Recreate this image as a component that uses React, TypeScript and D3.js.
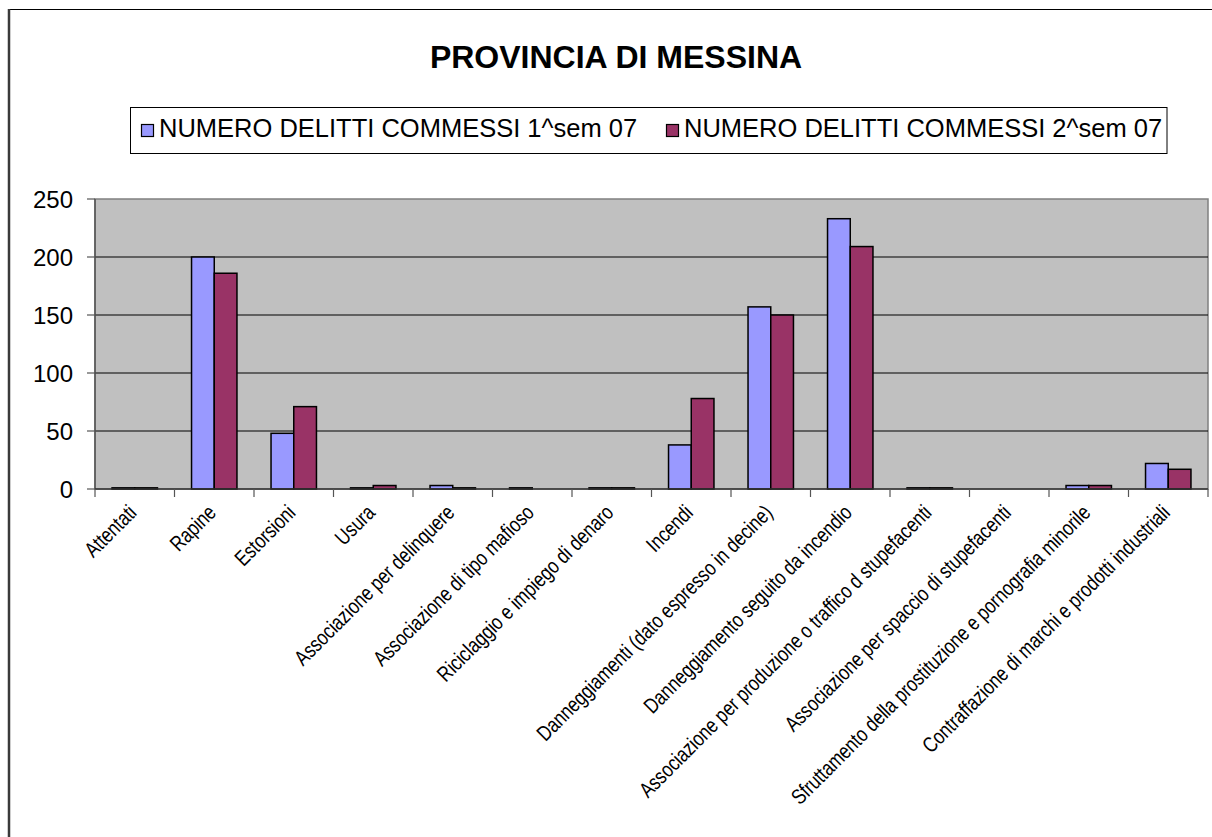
import React from "react";
import * as d3 from "d3";

const categories: string[] = [
  "Attentati",
  "Rapine",
  "Estorsioni",
  "Usura",
  "Associazione per delinquere",
  "Associazione di tipo mafioso",
  "Riciclaggio e impiego di denaro",
  "Incendi",
  "Danneggiamenti (dato espresso in decine)",
  "Danneggiamento seguito da incendio",
  "Associazione per produzione o traffico d stupefacenti",
  "Associazione per spaccio di stupefacenti",
  "Sfruttamento della prostituzione e pornografia minorile",
  "Contraffazione di marchi e prodotti industriali",
];

const seriesNames: string[] = [
  "NUMERO DELITTI COMMESSI 1^sem 07",
  "NUMERO DELITTI COMMESSI 2^sem 07",
];

const sem1: number[] = [1, 200, 48, 1, 3, 1, 1, 38, 157, 233, 1, 0, 3, 22];
const sem2: number[] = [1, 186, 71, 3, 1, 0, 1, 78, 150, 209, 1, 0, 3, 17];

const yTicks: number[] = [0, 50, 100, 150, 200, 250];

const seriesColors = ["#9999FF", "#993366"];

export default function App() {
  const W = 1212;
  const H = 837;
  const plot = { left: 95, right: 1208, top: 199, bottom: 489 };

  const x0 = d3
    .scaleBand<string>()
    .domain(categories)
    .range([plot.left, plot.right])
    .paddingInner(0)
    .paddingOuter(0);
  const x1 = d3
    .scaleBand<string>()
    .domain(seriesNames)
    .range([0, x0.bandwidth()])
    .paddingInner(0)
    .paddingOuter(0.75);
  const y = d3.scaleLinear().domain([0, 250]).range([plot.bottom, plot.top]);

  const values = [sem1, sem2];
  const mainFont = "'Liberation Sans', Arial, Helvetica, sans-serif";

  const boundaries = d3.range(categories.length + 1).map((i) => plot.left + i * x0.step());

  return (
    <svg
      width={W}
      height={H}
      style={{ position: "absolute", left: 0, top: 0, background: "#fff" }}
    >
      {/* outer chart border */}
      <path d={`M${W + 5},9.5 H9.5 V${H + 5}`} fill="none" stroke="#000" strokeWidth={1} />
      <line x1={9} y1={9} x2={9} y2={H + 5} stroke="#3a3a3a" strokeWidth={2.5} />

      {/* title */}
      <text
        x={616}
        y={68}
        textAnchor="middle"
        fontFamily={mainFont}
        fontWeight="bold"
        fontSize={32}
        fill="#000"
      >
        PROVINCIA DI MESSINA
      </text>

      {/* legend */}
      <rect x={130.5} y={107.5} width={1036.5} height={46} fill="#fff" stroke="#000" strokeWidth={1} />
      {seriesNames.map((name, i) => {
        const sx = i === 0 ? 141 : 666;
        return (
          <g key={name}>
            <rect x={sx + 0.5} y={124.5} width={12} height={12} fill={seriesColors[i]} stroke="#000" strokeWidth={1.2} />
            <text x={sx + 18} y={137} fontFamily={mainFont} fontSize={25.5} fill="#000">
              {name}
            </text>
          </g>
        );
      })}

      {/* plot area */}
      <rect
        x={plot.left}
        y={plot.top}
        width={plot.right - plot.left}
        height={plot.bottom - plot.top}
        fill="#C0C0C0"
        stroke="#808080"
        strokeWidth={1.5}
      />
      {yTicks
        .filter((t) => t > 0 && t < 250)
        .map((t) => (
          <line key={t} x1={plot.left} x2={plot.right} y1={y(t)} y2={y(t)} stroke="#000" strokeWidth={1.2} />
        ))}

      {/* bars */}
      {categories.map((c, ci) =>
        seriesNames.map((s, si) => {
          const v = values[si][ci];
          if (v <= 0) return null;
          const bx = (x0(c) as number) + (x1(s) as number);
          return (
            <rect
              key={c + s}
              x={bx}
              y={y(v)}
              width={x1.bandwidth()}
              height={y(0) - y(v)}
              fill={seriesColors[si]}
              stroke="#000"
              strokeWidth={1.5}
            />
          );
        })
      )}

      {/* axes */}
      <line x1={plot.left} x2={plot.left} y1={plot.top} y2={plot.bottom} stroke="#555" strokeWidth={1.5} />
      <line x1={plot.left} x2={plot.right} y1={plot.bottom} y2={plot.bottom} stroke="#333" strokeWidth={1.5} />
      {yTicks.map((t) => (
        <g key={t}>
          <line x1={plot.left - 8} x2={plot.left} y1={y(t)} y2={y(t)} stroke="#555" strokeWidth={1.2} />
          <text
            x={73}
            y={y(t) + 9}
            textAnchor="end"
            fontFamily={mainFont}
            fontSize={24}
            fill="#000"
          >
            {t}
          </text>
        </g>
      ))}
      {boundaries.map((bx, i) => (
        <line key={i} x1={bx} x2={bx} y1={plot.bottom} y2={plot.bottom + 8} stroke="#555" strokeWidth={1.2} />
      ))}

      {/* category labels */}
      {categories.map((c) => {
        const cx = (x0(c) as number) + x0.bandwidth() / 2 + 3;
        const cy = 514;
        return (
          <text
            key={c}
            x={0}
            y={0}
            transform={`translate(${cx} ${cy}) rotate(-45) scale(0.8 1)`}
            textAnchor="end"
            fontFamily={mainFont}
            fontSize={21.5}
            fill="#000"
          >
            {c}
          </text>
        );
      })}
    </svg>
  );
}
